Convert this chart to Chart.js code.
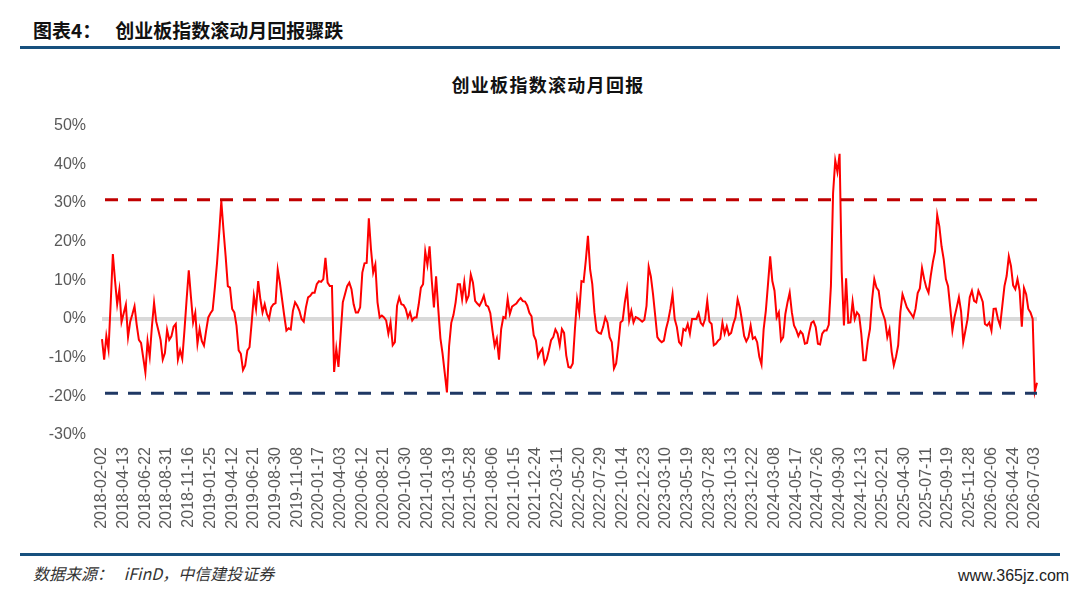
<!DOCTYPE html>
<html>
<head>
<meta charset="utf-8">
<script src="https://cdn.jsdelivr.net/npm/chart.js@4.4.1/dist/chart.umd.min.js"></script>
<style>
  html, body { margin: 0; padding: 0; background: #fff; }
  body { width: 1080px; height: 593px; position: relative; overflow: hidden;
         font-family: "Noto Sans CJK SC", "Liberation Sans", sans-serif; }
  #hdr { position: absolute; left: 33px; top: 16px; font-size: 19px; font-weight: bold; color: #111; }
  #hdr span { margin-left: 14px; }
  .rule { position: absolute; left: 20px; width: 1040px; height: 3px; background: #17507e; }
  #ctitle { position: absolute; left: 0; width: 1096px; top: 71px; text-align: center;
            font-size: 18px; font-weight: bold; color: #111; letter-spacing: 1.3px; }
  #src { position: absolute; left: 33px; top: 561px; font-size: 16px; font-style: italic; color: #333; }
  #wm { position: absolute; left: 958px; top: 567px; font-size: 16px; color: #222;
        font-family: "Liberation Sans", sans-serif; }
  #chart { position: absolute; left: 0; top: 100px; }
</style>
</head>
<body>
<div id="hdr">图表4：<span>创业板指数滚动月回报骤跌</span></div>
<div class="rule" style="top:46px"></div>
<div id="ctitle">创业板指数滚动月回报</div>
<canvas id="chart" width="1080" height="450"></canvas>
<div class="rule" style="top:553px"></div>
<div id="src">数据来源：&nbsp;&nbsp; iFinD，中信建投证券</div>
<div id="wm">www.365jz.com</div>
<script>
// tick labels, one every 10 weekly points
const tickLabels = [
  '2018-02-02','2018-04-13','2018-06-22','2018-08-31','2018-11-16',
  '2019-01-25','2019-04-12','2019-06-21','2019-08-30','2019-11-08',
  '2020-01-17','2020-04-03','2020-06-12','2020-08-21','2020-10-30',
  '2021-01-08','2021-03-19','2021-05-28','2021-08-06','2021-10-15','2021-12-24',
  '2022-03-11','2022-05-20','2022-07-29','2022-10-14','2022-12-23',
  '2023-03-10','2023-05-19','2023-07-28','2023-10-13','2023-12-22',
  '2024-03-08','2024-05-17','2024-07-26','2024-09-30','2024-12-13',
  '2025-02-21','2025-04-30','2025-07-11','2025-09-19','2025-11-28',
  '2026-02-06','2026-04-24','2026-07-03'
];

// weekly rolling monthly return, %
const rollingReturn = [
  -5.2,-10.5,-4.4,-7.9,4,16.8,10,3.8,7.6,-0.8,
  1.5,3.7,-4.7,-0.7,1.2,3.3,-1.5,-5.4,-6.2,-10,
  -13.8,-5.7,-9.7,-2,4.2,-0.7,-3,-5.4,-10.5,-8.8,
  -2.8,-5.4,-4.5,-2,-1.3,-10.5,-8.1,-10.3,-3,5,
  12.6,5.7,-0.9,1.6,-6.4,-2.6,-5.7,-6.9,-3,0.4,
  1.5,2.3,8,14.3,22,30.5,23,16.2,8.5,8.1,
  2.6,1.7,-1.7,-8.1,-9,-13.2,-12,-8.1,-7.3,-0.9,
  6,2.6,9.8,5.1,1.7,3.8,1.3,0,3,3.8,
  4.1,12.8,9.4,5.1,0.9,-3,-2.4,-2.7,2.1,4.3,
  3.4,2.1,0,-0.7,3,5.6,6,6.8,6.8,9,
  9.8,9.6,10.3,15.8,9.4,8.5,8.5,-13.7,-7.7,-12.4,
  -4,4.3,6.4,8.5,9.4,7.7,3.8,1.7,1.7,3,
  12,14.4,14.5,26,18,12,14.1,4.3,0.4,0.9,
  0.4,-0.4,-3.8,-0.9,-6.8,-6,3.4,5.6,3.8,3.6,
  2.6,0.4,1.7,-0.4,0.4,0.4,3.8,8.1,9,17.5,
  14,18.8,10,3,11,2.6,-5,-9,-14,-19,
  -7,-1,1,4.3,9,9,5.1,9.6,4.7,6,
  11.5,9.4,4.7,4,3.4,4.5,6,3.6,3.2,1.5,
  -3,-7,-5.1,-10.5,-2.6,0.5,0.2,5.2,1.3,3.2,
  3.6,4,4.8,5.4,4.6,4.5,3.5,1.6,0.7,-4.2,
  -5.5,-9.8,-8.5,-7.7,-11.5,-10.4,-8.1,-5.5,-4.7,-2.7,
  -3.8,-6.8,-2.6,-3.6,-9.4,-12.4,-12.6,-11.5,-2.6,5.1,
  1.7,9.8,9.6,15,21.5,12.8,9,1.7,-3,-3.6,
  -3.8,-2.1,0.4,-0.9,-4.7,-6,-12.8,-11.5,-6.8,-0.9,
  -0.4,4.3,7.7,-0.4,2.1,-0.9,0.5,0.2,-0.2,-0.7,
  -0.2,3.4,13.5,11,6.4,0.9,-4.7,-5.5,-6,-5.6,
  -2.6,-0.4,2.6,6.4,0,-2.1,-6,-6.7,-2.6,-3,
  -1.3,-3.8,0,0,0,1.5,-1,-1.7,0,4.7,
  -0.7,-1.3,-6.8,-6.4,-5.6,-5.1,-1,-3.8,-1.9,-4.1,
  -3.6,-1.3,0.4,5.1,3,-0.4,-4.4,-5.8,-4.7,-1.7,
  -5.1,-4.7,-6,-9.8,-11.8,-2.6,2.1,9,16.2,9.8,
  7.3,0.4,1.7,-5.6,-4.7,1.3,4.3,6.8,1.7,-1.7,
  -2.8,-4.4,-3.2,-3.9,-6.4,-6.2,-3.4,-1,-0.6,-2.1,
  -6.4,-6.6,-3.8,-3,-3,-1.5,8.5,32.5,41,38,
  42.7,12,-1.7,10.5,-1,-0.9,4.5,0,1.7,1,
  -3.8,-10.7,-10.7,-5.8,-2.6,5.1,10.3,8.1,7.3,3,
  1.3,-0.4,-4.7,-2.6,-8.5,-12,-9.8,-6.8,1.7,6.4,
  4.7,3,2.1,1.3,0.4,2.6,6.7,7.9,13.2,10.3,
  8.1,6.8,11.1,14.7,17.5,26.9,23.9,18.8,15.4,10.3,
  8.5,3,-3,0.5,3,5.6,2,-6,-3,0,
  5.6,7.3,4.7,4.3,7.3,6,4.4,-1.3,-1.7,-0.9,
  -3,2.6,2.7,0,-1.7,3.4,8.5,11.1,16.2,13.7,
  8.7,7.7,10.3,7.3,-2,8,6.4,2.6,1.7,0,
  -18.8,-16.5
];

// reference bands, %
const upperBand = 30.8;
const lowerBand = -19.2;

const categories = rollingReturn.map((_, i) => (i % 10 === 0 ? tickLabels[i / 10] : ''));

const bandsPlugin = {
  id: 'bands',
  beforeDatasetsDraw(chart) {
    const { ctx, chartArea, scales } = chart;
    const y0 = scales.y.getPixelForValue(0);
    ctx.save();
    ctx.strokeStyle = '#d9d9d9';
    ctx.lineWidth = 4;
    ctx.beginPath();
    ctx.moveTo(chartArea.left, y0);
    ctx.lineTo(chartArea.right, y0);
    ctx.stroke();
    ctx.restore();
  },
  afterDatasetsDraw(chart) {
    const { ctx, chartArea, scales } = chart;
    const drawBand = (val, color) => {
      const y = scales.y.getPixelForValue(val);
      ctx.save();
      ctx.strokeStyle = color;
      ctx.lineWidth = 3;
      ctx.setLineDash([13, 10]);
      ctx.beginPath();
      ctx.moveTo(chartArea.left + 3, y);
      ctx.lineTo(chartArea.right, y);
      ctx.stroke();
      ctx.restore();
    };
    drawBand(upperBand, '#c00000');
    drawBand(lowerBand, '#1f3864');
  }
};

new Chart(document.getElementById('chart'), {
  type: 'line',
  data: {
    labels: categories,
    datasets: [{
      data: rollingReturn,
      borderColor: '#ff0000',
      borderWidth: 2,
      pointRadius: 0,
      tension: 0,
      fill: false
    }]
  },
  options: {
    responsive: false,
    animation: false,
    layout: { padding: { top: 23, right: 43, left: 0, bottom: 0 } },
    plugins: { legend: { display: false }, tooltip: { enabled: false } },
    scales: {
      x: {
        type: 'category',
        offset: false,
        grid: { display: false, drawTicks: false },
        border: { display: false },
        ticks: {
          autoSkip: false,
          minRotation: 90,
          maxRotation: 90,
          padding: 12,
          color: '#595959',
          font: { family: 'Liberation Sans', size: 16 },
          callback: (v, i) => (i % 10 === 0 ? tickLabels[i / 10] : null)
        },
        afterFit: s => { s.height = 115; }
      },
      y: {
        min: -30,
        max: 50,
        grid: { display: false, drawTicks: false },
        border: { display: false },
        ticks: {
          stepSize: 10,
          padding: 16,
          color: '#595959',
          font: { family: 'Liberation Sans', size: 16 },
          callback: v => v + '%'
        },
        afterFit: s => { s.width = 102; }
      }
    }
  },
  plugins: [bandsPlugin]
});
</script>
</body>
</html>
